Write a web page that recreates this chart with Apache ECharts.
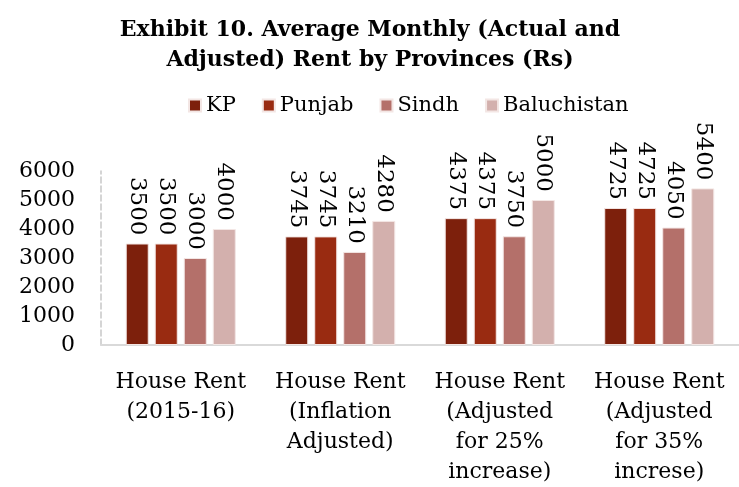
<!DOCTYPE html>
<html>
<head>
<meta charset="utf-8">
<script src="https://cdn.jsdelivr.net/npm/echarts@6/dist/echarts.min.js"></script>
<style>
  html, body { margin: 0; padding: 0; background: #fff; }
  #chart { width: 739px; height: 487px; }
</style>
</head>
<body>
<div id="chart"></div>
<script>
// categories and values
const categories = [
  "House Rent\n(2015-16)",
  "House Rent\n(Inflation\nAdjusted)",
  "House Rent\n(Adjusted\nfor 25%\nincrease)",
  "House Rent\n(Adjusted\nfor 35%\nincrese)"
];
const provinces = ["KP", "Punjab", "Sindh", "Baluchistan"];
const kpValues = [3500, 3745, 4375, 4725];
const punjabValues = [3500, 3745, 4375, 4725];
const sindhValues = [3000, 3210, 3750, 4050];
const baluchistanValues = [4000, 4280, 5000, 5400];

const colors = ["#7d200c", "#992b11", "#b4706a", "#d3b0ad"];
const FONT = "DejaVu Serif";

const chart = echarts.init(document.getElementById("chart"));

const makeSeries = (name, data, color) => ({
  name: name,
  type: "bar",
  data: data,
  barGap: "26%",
  barCategoryGap: "31%",
  itemStyle: { color: color, borderColor: "#f3e6e4", borderWidth: 1 },
  label: {
    show: true,
    position: "top",
    rotate: -90,
    align: "right",
    verticalAlign: "middle",
    distance: 8,
    color: "#000",
    fontFamily: FONT,
    fontSize: 23
  }
});

const option = {
  animation: false,
  backgroundColor: "#fff",
  title: {
    text: "Exhibit 10. Average Monthly (Actual and\nAdjusted) Rent by Provinces (Rs)",
    left: 365,
    top: 10,
    textAlign: "center",
    textStyle: {
      fontFamily: FONT,
      fontWeight: "bold",
      fontSize: 22,
      lineHeight: 30,
      color: "#000"
    }
  },
  legend: {
    data: provinces,
    left: 183,
    top: 90,
    itemWidth: 12,
    itemHeight: 12,
    itemGap: 26,
    icon: "rect",
    textStyle: { fontFamily: FONT, fontSize: 21, color: "#000" }
  },
  grid: { left: 101, right: 0, top: 171, bottom: 142 },
  xAxis: {
    type: "category",
    data: categories,
    axisTick: { show: false },
    axisLine: { lineStyle: { color: "#d9d9d9", width: 2 } },
    axisLabel: {
      interval: 0,
      margin: 22,
      color: "#000",
      fontFamily: FONT,
      fontSize: 22,
      lineHeight: 30
    }
  },
  yAxis: {
    type: "value",
    min: 0,
    max: 6000,
    interval: 1000,
    axisLine: { show: true, lineStyle: { color: "#c8c8c8", type: "dashed", width: 1.5 } },
    axisTick: { show: false },
    splitLine: { show: false },
    axisLabel: {
      color: "#000",
      fontFamily: FONT,
      fontSize: 22,
      margin: 26,
      formatter: (v) => String(v)
    }
  },
  series: [
    makeSeries("KP", kpValues, colors[0]),
    makeSeries("Punjab", punjabValues, colors[1]),
    makeSeries("Sindh", sindhValues, colors[2]),
    makeSeries("Baluchistan", baluchistanValues, colors[3])
  ]
};

chart.setOption(option);
</script>
</body>
</html>
